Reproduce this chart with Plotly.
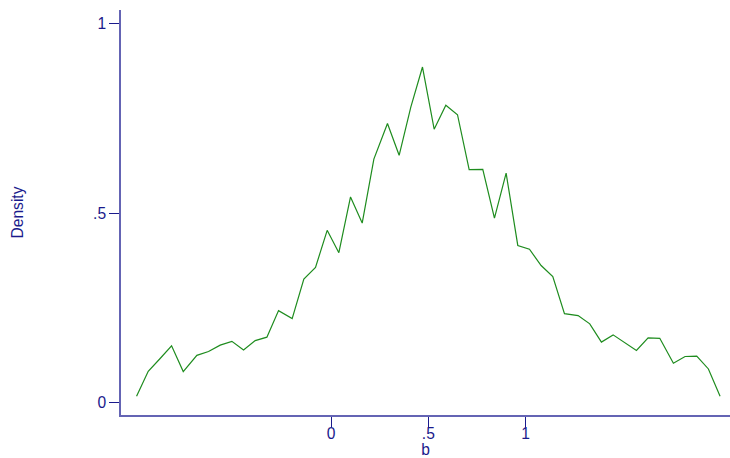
import plotly.graph_objects as go

x_vals = [-1.00, -0.94, -0.88, -0.82, -0.76, -0.69, -0.63, -0.57, -0.51, -0.45,
          -0.39, -0.33, -0.27, -0.20, -0.14, -0.08, -0.02, 0.04, 0.10, 0.16,
          0.22, 0.29, 0.35, 0.41, 0.47, 0.53, 0.59, 0.65, 0.71, 0.78,
          0.84, 0.90, 0.96, 1.02, 1.08, 1.14, 1.20, 1.27, 1.33, 1.39,
          1.45, 1.51, 1.57, 1.63, 1.69, 1.76, 1.82, 1.88, 1.94, 2.00]
density = [0.017, 0.083, 0.116, 0.150, 0.082, 0.125, 0.135, 0.152, 0.162, 0.139,
           0.164, 0.173, 0.243, 0.222, 0.326, 0.357, 0.455, 0.396, 0.543, 0.474,
           0.643, 0.737, 0.653, 0.780, 0.886, 0.722, 0.785, 0.760, 0.615, 0.616,
           0.487, 0.606, 0.415, 0.405, 0.362, 0.333, 0.235, 0.230, 0.208, 0.160,
           0.179, 0.159, 0.138, 0.171, 0.170, 0.104, 0.122, 0.123, 0.089, 0.017]

x_ticks = [0, 0.5, 1]
x_ticklabels = ["0", ".5", "1"]
y_ticks = [0, 0.5, 1]
y_ticklabels = ["0", ".5", "1"]

text_color = "#1a1a8c"
axis_color = "#6464b4"
fsize = 15.6

fig = go.Figure()
fig.add_trace(go.Scatter(x=x_vals, y=density, mode="lines",
                         line=dict(color="#1e8c1e", width=1.2), showlegend=False))

fig.update_layout(
    width=730, height=458,
    margin=dict(l=121, r=0, t=10, b=43),
    paper_bgcolor="white", plot_bgcolor="white",
    font=dict(family="Liberation Sans, Arial, sans-serif", size=fsize, color=text_color),
    xaxis=dict(range=[-1.08, 2.051], tickvals=x_ticks, ticktext=x_ticklabels,
               showgrid=False, zeroline=False, showline=True, linecolor=axis_color,
               linewidth=1.5, ticks="outside", ticklen=10, tickcolor=text_color,
               tickwidth=1.2, automargin=False, ticklabelstandoff=-6,
               title=dict(text="b", standoff=3, font=dict(size=fsize, color=text_color))),
    yaxis=dict(range=[-0.0325, 1.0365], tickvals=y_ticks, ticktext=y_ticklabels,
               showgrid=False, zeroline=False, showline=True, linecolor=axis_color,
               linewidth=1.5, ticks="outside", ticklen=10, tickcolor=text_color,
               tickwidth=1.2, automargin=False,
               title=dict(text="Density", standoff=66, font=dict(size=fsize, color=text_color))),
)

fig.write_html("out.html", config={"displayModeBar": False},
               post_script="document.body.style.margin='0';document.body.style.overflow='hidden';")
